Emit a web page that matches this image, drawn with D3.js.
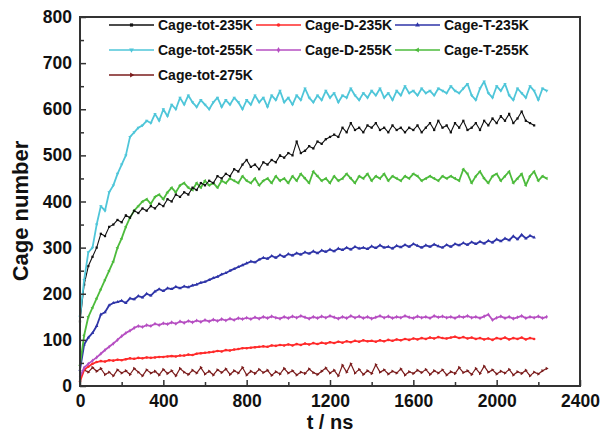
<!DOCTYPE html>
<html>
<head>
<meta charset="utf-8">
<script src="https://cdn.jsdelivr.net/npm/d3@7/dist/d3.min.js"></script>
<style>
  html, body { margin: 0; padding: 0; background: #fff; }
  svg { display: block; }
  text { font-family: "Liberation Sans", Arial, sans-serif; font-weight: bold; fill: #111; }
</style>
</head>
<body>
<svg id="chart" width="601" height="433"></svg>
<script>
// ---- data ----
// sampling step of the time axis (ns)
const tStep = 20;
const tEnd235 = 2180;   // 235K runs end here
const tEnd255 = 2240;   // 255K / 275K runs end here

const cageTot235 = [140,220,260,280,300,330,325,345,350,360,355,370,365,380,375,385,380,390,385,395,
  390,405,400,415,410,420,415,430,425,440,435,445,440,455,450,460,455,470,465,480,
  490,475,480,470,485,480,490,485,500,495,505,500,530,505,510,520,515,530,525,535,
  540,545,540,560,550,570,555,560,550,565,560,570,555,560,550,565,555,560,550,560,
  555,565,550,560,570,555,575,560,565,550,570,560,575,555,560,570,555,575,565,580,
  570,585,575,590,570,580,595,575,570,565];
const cageD235 = [10,35,42,48,52,54,53,56,55,57,56,58,60,59,61,60,62,61,62,63,
  63,64,65,64,66,66,68,67,70,71,72,73,74,76,75,78,77,79,80,82,
  82,83,84,85,86,85,88,87,89,88,90,88,91,89,92,90,93,91,94,92,
  95,93,96,94,97,95,98,96,99,97,98,96,99,97,100,98,101,99,102,100,
  103,101,104,102,105,103,106,104,103,105,107,104,106,103,105,102,104,101,103,100,
  104,102,105,101,104,102,105,101,104,102];
const cageT235 = [35,90,105,115,130,155,160,175,180,182,185,180,190,188,195,192,200,196,205,210,
  206,212,210,215,212,216,214,218,220,224,226,230,234,237,242,245,250,254,258,262,
  266,270,268,274,278,276,282,278,284,280,286,283,288,285,290,287,292,288,294,291,
  296,292,298,295,300,296,302,298,300,297,303,299,305,300,302,298,304,301,306,302,
  308,304,300,305,302,307,303,300,306,302,308,305,310,306,312,308,313,309,315,311,
  318,314,320,316,325,318,328,320,326,322];
const cageTot255 = [150,230,290,300,350,390,380,420,435,460,480,500,540,550,560,565,575,570,590,575,
  600,585,610,600,625,610,630,615,605,620,610,600,615,625,605,620,610,625,615,600,
  620,610,630,615,625,605,630,620,640,615,625,610,630,620,645,625,615,630,620,640,
  625,635,615,630,625,645,630,620,635,625,640,630,645,625,635,620,640,630,650,635,
  640,630,645,635,640,630,645,640,635,650,640,635,645,655,630,620,645,660,635,625,
  650,640,655,630,620,645,635,625,650,640,620,645,640];
const cageD255 = [20,40,48,55,62,70,78,85,92,100,108,115,120,126,130,128,132,130,135,132,
  136,134,138,135,140,137,141,138,142,139,143,140,144,141,145,142,146,143,147,145,
  148,145,149,146,150,147,151,148,146,150,147,151,148,152,149,146,150,147,151,148,
  152,149,146,150,147,152,148,151,147,150,146,149,152,148,151,147,150,148,152,149,
  147,151,148,150,147,152,149,151,148,150,147,151,149,152,148,150,147,151,155,143,
  148,151,147,150,146,149,152,147,150,148,151,147,150];
const cageT255 = [45,110,150,170,190,210,230,250,270,300,320,345,365,380,390,400,405,395,410,415,
  405,420,430,420,435,440,430,425,440,430,445,435,440,430,445,440,450,445,440,455,
  445,440,450,435,445,450,440,455,445,450,440,455,445,460,450,440,465,455,445,450,
  440,455,445,450,460,450,440,455,450,460,445,455,450,460,445,455,450,445,455,450,
  460,455,445,450,455,450,445,455,450,455,450,445,470,460,440,455,465,450,440,455,
  460,445,455,465,440,450,460,435,455,465,445,455,450];
const cageTot275 = [15,35,30,40,32,38,25,30,22,35,28,33,25,38,30,22,35,28,32,24,
  36,27,33,22,38,30,25,34,28,40,26,32,24,35,29,37,25,33,28,40,
  24,32,27,36,29,34,23,31,26,38,28,33,24,30,27,37,29,25,32,39,
  28,34,22,45,30,48,28,36,25,33,27,46,30,35,26,32,28,37,24,31,
  27,34,29,36,25,33,28,35,24,31,27,40,29,33,25,38,27,43,30,35,
  26,32,28,36,24,31,27,34,22,30,26,33,38];

const seriesNames = ["Cage-tot-235K","Cage-D-235K","Cage-T-235K",
                     "Cage-tot-255K","Cage-D-255K","Cage-T-255K","Cage-tot-275K"];
const seriesColors = ["#111111","#ff2a2a","#2f35a8","#4fc6d9","#b64fc2","#4dbb3c","#7b1c1c"];
const xTickValues = [0,400,800,1200,1600,2000,2400];
const yTickValues = [0,100,200,300,400,500,600,700,800];

// ---- layout ----
const svg = d3.select("#chart");
const X0 = 80, X1 = 580, Y0 = 386, Y1 = 17;
const x = d3.scaleLinear().domain([0, 2400]).range([X0, X1]);
const y = d3.scaleLinear().domain([0, 800]).range([Y0, Y1]);

const t235 = d3.range(0, tEnd235 + 1, tStep);
const t255 = d3.range(0, tEnd255 + 1, tStep);

const seriesValues = [cageTot235, cageD235, cageT235, cageTot255, cageD255, cageT255, cageTot275];
const seriesTimes = [t235, t235, t235, t255, t255, t255, t255];
const symbolTypes = [d3.symbolSquare, d3.symbolCircle, d3.symbolTriangle, d3.symbolTriangle,
                     d3.symbolDiamond, d3.symbolTriangle, d3.symbolTriangle];
const symbolRot = [0, 0, 0, 180, 0, -90, 90];
const lineWidths = [1.1, 1.8, 1.8, 1.8, 1.8, 1.8, 1.2];

const series = seriesNames.map((name, i) => ({
  name, color: seriesColors[i],
  pts: seriesValues[i].map((v, j) => ({t: seriesTimes[i][j], v}))
}));

const line = d3.line().x(d => x(d.t)).y(d => y(d.v));
const plot = svg.append("g");

// draw order: back to front
const order = [6, 1, 4, 2, 5, 0, 3];
order.forEach(i => {
  const s = series[i];
  plot.append("path").datum(s.pts)
    .attr("fill", "none").attr("stroke", s.color)
    .attr("stroke-width", lineWidths[i]).attr("stroke-linejoin", "round")
    .attr("d", line);
  plot.selectAll(null).data(s.pts).enter().append("path")
    .attr("d", d3.symbol().type(symbolTypes[i]).size(5))
    .attr("transform", d => `translate(${x(d.t)},${y(d.v)}) rotate(${symbolRot[i]})`)
    .attr("fill", s.color);
});

// ---- axes ----
const axisColor = "#333";
const xAxis = d3.axisBottom(x).tickValues(xTickValues).tickSize(-6).tickPadding(9).tickFormat(d3.format("d"));
const xMinor = d3.axisBottom(x).tickValues(d3.range(200, 2400, 400)).tickSize(-4).tickFormat("");
const yAxis = d3.axisLeft(y).tickValues(yTickValues).tickSize(-6).tickPadding(8).tickFormat(d3.format("d"));
const yMinor = d3.axisLeft(y).tickValues(d3.range(50, 800, 100)).tickSize(-4).tickFormat("");

function styleAxis(g) {
  g.select(".domain").remove();
  g.selectAll(".tick line").attr("stroke", axisColor).attr("stroke-width", 1.5);
  g.selectAll(".tick text").style("font-size", "17.5px").style("font-weight", "bold")
    .attr("fill", "#111").style("font-family", '"Liberation Sans", Arial, sans-serif');
}
svg.append("g").attr("transform", `translate(0,${Y0})`).call(xAxis).call(styleAxis);
svg.append("g").attr("transform", `translate(0,${Y0})`).call(xMinor).call(styleAxis);
svg.append("g").attr("transform", `translate(${X0},0)`).call(yAxis).call(styleAxis);
svg.append("g").attr("transform", `translate(${X0},0)`).call(yMinor).call(styleAxis);

// frame
svg.append("rect").attr("x", X0).attr("y", Y1).attr("width", X1 - X0).attr("height", Y0 - Y1)
  .attr("fill", "none").attr("stroke", axisColor).attr("stroke-width", 2);

// axis titles
svg.append("text").attr("x", (X0 + X1) / 2).attr("y", 429).attr("text-anchor", "middle")
  .style("font-size", "20px").text("t / ns");
svg.append("text").attr("transform", `translate(28,211) rotate(-90)`).attr("text-anchor", "middle")
  .style("font-size", "22px").text("Cage number");

// ---- legend ----
const legCols = [{lx: 109, tx: 158}, {lx: 256, tx: 305}, {lx: 395, tx: 444}];
const legRows = [25, 50, 75];
const leg = svg.append("g");
series.forEach((s, i) => {
  const c = legCols[i % 3], r = legRows[Math.floor(i / 3)];
  leg.append("line").attr("x1", c.lx).attr("x2", c.lx + 45).attr("y1", r).attr("y2", r)
    .attr("stroke", s.color).attr("stroke-width", 1.3);
  leg.append("path").attr("d", d3.symbol().type(symbolTypes[i]).size(10))
    .attr("transform", `translate(${c.lx + 22.5},${r}) rotate(${symbolRot[i]})`).attr("fill", s.color);
  leg.append("text").attr("x", c.tx).attr("y", r + 5).style("font-size", "14px").text(s.name);
});
</script>
</body>
</html>
